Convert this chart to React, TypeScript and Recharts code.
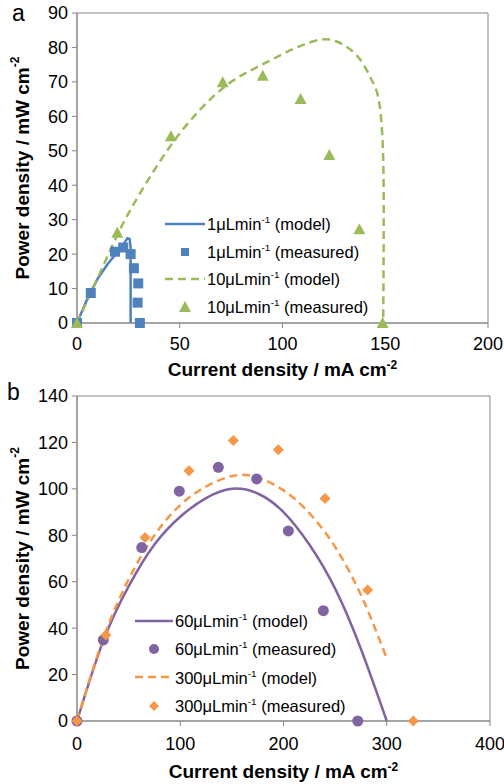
import { ComposedChart, Line, ReferenceArea, Scatter, XAxis, YAxis } from 'recharts';

// ---- chart a ----
const blueModelX = [0, 5, 10, 15, 20, 23, 24.5, 25.6, 26.1, 26.1, 26.1];
const blueModelY = [0, 7, 12.8, 17.2, 20.8, 23.2, 24.6, 24.4, 22, 10, 0];
const blueMeasX = [0, 6.7, 18.5, 22.5, 26.1, 27.7, 29.8, 29.5, 30.6];
const blueMeasY = [0, 8.7, 20.7, 21.9, 20, 15.9, 11.5, 5.9, 0];
const greenModelX = [0, 10, 20, 30, 45, 60, 75, 90, 105, 118, 126, 133, 139, 143, 146.5, 148.5, 149.2, 149.2, 149];
const greenModelY = [0, 13, 26, 37, 51, 62, 70, 75, 79.5, 82.2, 81.8, 79.4, 75.5, 71, 65.8, 55, 40, 20, 0];
const greenMeasX = [0, 19.6, 45.7, 70.9, 90.4, 108.8, 122.8, 137.4, 148.7];
const greenMeasY = [0, 26.2, 54.2, 69.9, 71.8, 65, 48.8, 27.2, 0];
const ticksAX = [0, 50, 100, 150, 200];
const ticksAY = [0, 10, 20, 30, 40, 50, 60, 70, 80, 90];

// ---- chart b ----
const purpleModelX = [0, 25, 50, 75, 100, 125, 150, 175, 200, 225, 250, 275, 300];
const purpleModelY = [0, 34, 58, 76, 88, 96, 100, 98, 90, 76, 57, 31, 0];
const purpleMeasX = [0, 25.5, 62.7, 99.1, 136.9, 174, 204.7, 238.6, 271.9];
const purpleMeasY = [0, 34.9, 74.7, 99, 109.3, 104.3, 81.9, 47.5, 0];
const orangeModelX = [0, 25, 50, 75, 100, 125, 150, 170, 190, 210, 230, 250, 270, 285, 300];
const orangeModelY = [0, 35, 61, 80, 93, 101, 105.5, 105.5, 102, 96, 87, 75, 59, 44, 27];
const orangeMeasX = [0, 28, 65.9, 108.5, 151.4, 195, 240.2, 281.5, 325.7];
const orangeMeasY = [0, 37, 79.1, 107.8, 120.8, 116.8, 95.8, 56.4, 0];
const ticksBX = [0, 100, 200, 300, 400];
const ticksBY = [0, 20, 40, 60, 80, 100, 120, 140];

const BLUE = '#4F81BD';
const GREEN = '#9BBB59';
const PURPLE = '#8064A2';
const ORANGE = '#F79646';
const AXIS = '#868686';
const FONT = '"Liberation Sans", Arial, sans-serif';

const pts = (xs: number[], ys: number[]) => xs.map((x, i) => ({ x, y: ys[i] }));

const square = (c: string) => (p: any) => <rect x={p.cx - 5} y={p.cy - 5} width={10} height={10} fill={c} />;
const triangle = (c: string) => (p: any) => (
  <polygon points={`${p.cx},${p.cy - 6} ${p.cx + 6},${p.cy + 5} ${p.cx - 6},${p.cy + 5}`} fill={c} />
);
const circle = (c: string) => (p: any) => <circle cx={p.cx} cy={p.cy} r={5.5} fill={c} />;
const diamond = (c: string) => (p: any) => (
  <polygon points={`${p.cx},${p.cy - 5.5} ${p.cx + 5.5},${p.cy} ${p.cx},${p.cy + 5.5} ${p.cx - 5.5},${p.cy}`} fill={c} />
);

const xTitle = (dy: number) => ({ viewBox }: any) => (
  <text x={viewBox.x + viewBox.width / 2} y={viewBox.y + dy} textAnchor='middle' fontFamily={FONT} fontWeight='bold' fontSize={19} fill='#000'>
    Current density / mA cm<tspan dy={-7} fontSize={12}>-2</tspan>
  </text>
);

const yTitle = ({ viewBox }: any) => {
  const cx = 22;
  const cy = viewBox.y + viewBox.height / 2;
  return (
    <text x={cx} y={cy} transform={`rotate(-90 ${cx} ${cy})`} textAnchor='middle' dominantBaseline='central' fontFamily={FONT} fontWeight='bold' fontSize={19} fill='#000'>
      Power density / mW cm<tspan dy={-7} fontSize={12}>-2</tspan>
    </text>
  );
};

const tickStyle = { fontSize: 18, fill: '#000', fontFamily: FONT };

type LegendRow = { label: string; rest: string; icon: 'solid' | 'dash' | 'square' | 'triangle' | 'circle' | 'diamond'; color: string };

const LegendBox = ({ rows, left, top, gap, lineW }: { rows: LegendRow[]; left: number; top: number; gap: number; lineW: number }) => (
  <div style={{ position: 'absolute', left, top, fontFamily: FONT, fontSize: 16.5, color: '#000' }}>
    {rows.map((r, i) => (
      <div key={i} style={{ position: 'absolute', top: i * gap, left: 0, display: 'flex', alignItems: 'center', whiteSpace: 'nowrap', height: 20 }}>
        <svg width={lineW} height={14} style={{ marginRight: 2 }}>
          {r.icon === 'solid' && <line x1={0} y1={7} x2={lineW} y2={7} stroke={r.color} strokeWidth={2.5} />}
          {r.icon === 'dash' && <line x1={0} y1={7} x2={lineW} y2={7} stroke={r.color} strokeWidth={2.5} strokeDasharray='8 5' />}
          {r.icon === 'square' && <rect x={lineW / 2 - 4} y={3} width={8} height={8} fill={r.color} />}
          {r.icon === 'triangle' && <polygon points={`${lineW / 2},1 ${lineW / 2 + 6},12 ${lineW / 2 - 6},12`} fill={r.color} />}
          {r.icon === 'circle' && <circle cx={lineW / 2} cy={7} r={5} fill={r.color} />}
          {r.icon === 'diamond' && <polygon points={`${lineW / 2},2 ${lineW / 2 + 5},7 ${lineW / 2},12 ${lineW / 2 - 5},7`} fill={r.color} />}
        </svg>
        <span>
          {r.label}
          <sup style={{ fontSize: '0.6em' }}>-1</sup> {r.rest}
        </span>
      </div>
    ))}
  </div>
);

const legendA: LegendRow[] = [
  { label: '1μLmin', rest: '(model)', icon: 'solid', color: BLUE },
  { label: '1μLmin', rest: '(measured)', icon: 'square', color: BLUE },
  { label: '10μLmin', rest: '(model)', icon: 'dash', color: GREEN },
  { label: '10μLmin', rest: '(measured)', icon: 'triangle', color: GREEN },
];
const legendB: LegendRow[] = [
  { label: '60μLmin', rest: '(model)', icon: 'solid', color: PURPLE },
  { label: '60μLmin', rest: '(measured)', icon: 'circle', color: PURPLE },
  { label: '300μLmin', rest: '(model)', icon: 'dash', color: ORANGE },
  { label: '300μLmin', rest: '(measured)', icon: 'diamond', color: ORANGE },
];

export default function App() {
  return (
    <div style={{ position: 'absolute', left: 0, top: 0, width: 504, height: 784, background: '#fff', overflow: 'hidden' }}>
      <div style={{ position: 'absolute', left: 0, top: 0 }}>
        <ComposedChart width={504} height={385} margin={{ top: 13, right: 16, left: 0, bottom: 0 }}>
          <XAxis type='number' dataKey='x' domain={[0, 200]} ticks={ticksAX} height={62} stroke={AXIS} tickSize={5} tickMargin={9} tick={tickStyle} label={xTitle(53)} />
          <YAxis type='number' dataKey='y' domain={[0, 90]} ticks={ticksAY} width={77} stroke={AXIS} tickSize={5} tickMargin={4} tick={tickStyle} label={yTitle} />
          <ReferenceArea x1={0} x2={200} y1={0} y2={90} fill='none' stroke={AXIS} strokeWidth={1} />
          <Line data={pts(blueModelX, blueModelY)} dataKey='y' type='linear' stroke={BLUE} strokeWidth={2.5} dot={false} isAnimationActive={false} />
          <Scatter data={pts(blueMeasX, blueMeasY)} dataKey='y' shape={square(BLUE)} isAnimationActive={false} />
          <Line data={pts(greenModelX, greenModelY)} dataKey='y' type='natural' stroke={GREEN} strokeWidth={2.5} strokeDasharray='8 5' dot={false} isAnimationActive={false} />
          <Scatter data={pts(greenMeasX, greenMeasY)} dataKey='y' shape={triangle(GREEN)} isAnimationActive={false} />
        </ComposedChart>
      </div>
      <div style={{ position: 'absolute', left: 12, top: 0, fontFamily: FONT, fontSize: 23 }}>a</div>
      <LegendBox rows={legendA} left={165} top={214} gap={27.5} lineW={40} />

      <div style={{ position: 'absolute', left: 0, top: 385 }}>
        <ComposedChart width={504} height={399} margin={{ top: 11, right: 14, left: 0, bottom: 0 }}>
          <XAxis type='number' dataKey='x' domain={[0, 400]} ticks={ticksBX} height={63} stroke={AXIS} tickSize={5} tickMargin={11} tick={tickStyle} label={xTitle(57)} />
          <YAxis type='number' dataKey='y' domain={[0, 140]} ticks={ticksBY} width={77} stroke={AXIS} tickSize={5} tickMargin={4} tick={tickStyle} label={yTitle} />
          <ReferenceArea x1={0} x2={400} y1={0} y2={140} fill='none' stroke={AXIS} strokeWidth={1} />
          <Line data={pts(purpleModelX, purpleModelY)} dataKey='y' type='natural' stroke={PURPLE} strokeWidth={2.5} dot={false} isAnimationActive={false} />
          <Scatter data={pts(purpleMeasX, purpleMeasY)} dataKey='y' shape={circle(PURPLE)} isAnimationActive={false} />
          <Line data={pts(orangeModelX, orangeModelY)} dataKey='y' type='natural' stroke={ORANGE} strokeWidth={2.5} strokeDasharray='8 5' dot={false} isAnimationActive={false} />
          <Scatter data={pts(orangeMeasX, orangeMeasY)} dataKey='y' shape={diamond(ORANGE)} isAnimationActive={false} />
        </ComposedChart>
      </div>
      <div style={{ position: 'absolute', left: 7, top: 379, fontFamily: FONT, fontSize: 23 }}>b</div>
      <LegendBox rows={legendB} left={135} top={611} gap={28.2} lineW={38} />
    </div>
  );
}
